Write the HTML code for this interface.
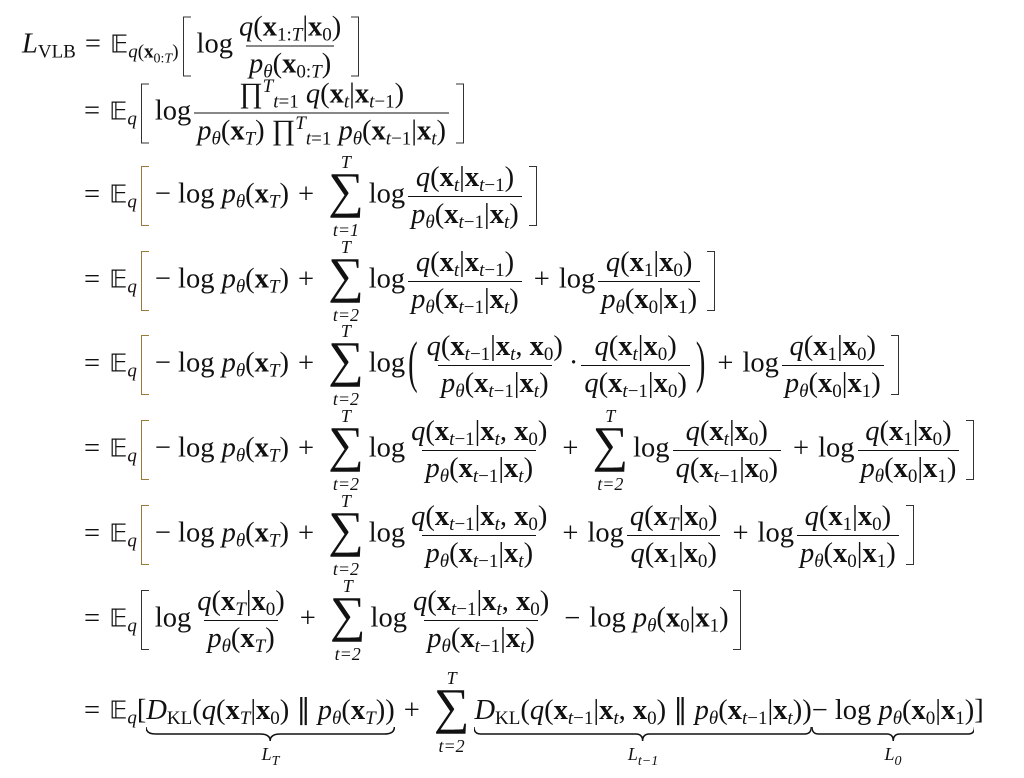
<!DOCTYPE html>
<html><head><meta charset="utf-8">
<style>
body{margin:0;width:1024px;height:778px;background:#fff;position:relative;overflow:hidden;font-family:"Liberation Serif",serif;font-size:28.5px;color:#111}
.row{position:absolute;white-space:nowrap;line-height:1;transform:translateY(-50%)}
.fr{display:inline-flex;flex-direction:column;align-items:center;margin:0 3px;vertical-align:middle}
.fr>span{padding:0 3px;line-height:36px}
.fr>span+span{border-top:1.4px solid #111}
.sum{display:inline-flex;flex-direction:column;align-items:center;margin:0 5px;line-height:1;vertical-align:middle}
.sum .s{font-size:50px;line-height:46px;transform:translateY(-5px)}
.sum .l{font-size:18px;font-style:italic;line-height:20px}
.sum .l:last-child{margin-top:2px}
sub{font-size:19px;vertical-align:-5px;line-height:0}
sub sub{font-size:14px}
sup{font-size:19px;line-height:0}
i{font-style:italic}
.br{display:inline-block;width:7px;height:58px;border:1.4px solid #333;border-right:none;margin:0 6px 0 4px;vertical-align:middle}
.br.r{border-left:none;border-right:1.4px solid #333;margin:0 2px 0 4px}
.br.o{border-color:#9a7a3a}
.bb{font-family:"DejaVu Sans",sans-serif;font-size:25px}
.op{margin:0 9px}
.bp{display:inline-block;transform:scaleY(2);margin:0 3px;vertical-align:middle}
.ub{position:relative;display:inline-block}
.ub svg{position:absolute;left:0;top:100%;width:100%;height:14px;margin-top:2px}
.ub .lab{position:absolute;left:0;right:0;text-align:center;top:100%;margin-top:20px;font-size:18px;font-style:italic}
.ub .lab sub{font-size:14px}
</style></head><body>

<div class="row" style="left:22px;top:46px"><i>L</i><sub style="font-style:normal">VLB</sub><span class="op">=</span><span class="bb">𝔼</span><sub><i>q</i>(<b>x</b><sub>0:<i>T</i></sub>)</sub><span class="br"></span>log<span class="fr"><span><i>q</i>(<b>x</b><sub>1:<i>T</i></sub>|<b>x</b><sub>0</sub>)</span><span><i>p</i><sub><i>θ</i></sub>(<b>x</b><sub>0:<i>T</i></sub>)</span></span><span class="br r"></span></div>

<div class="row" style="left:84px;top:113px"><span class="op" style="margin-left:0">=</span><span class="bb">𝔼</span><sub><i>q</i></sub><span class="br"></span>log<span class="fr"><span>∏<sup><i>T</i></sup><sub><i>t</i>=1</sub> <i>q</i>(<b>x</b><sub><i>t</i></sub>|<b>x</b><sub><i>t</i>−1</sub>)</span><span><i>p</i><sub><i>θ</i></sub>(<b>x</b><sub><i>T</i></sub>) ∏<sup><i>T</i></sup><sub><i>t</i>=1</sub> <i>p</i><sub><i>θ</i></sub>(<b>x</b><sub><i>t</i>−1</sub>|<b>x</b><sub><i>t</i></sub>)</span></span><span class="br r"></span></div>

<div class="row" style="left:84px;top:196px"><span class="op" style="margin-left:0">=</span><span class="bb">𝔼</span><sub><i>q</i></sub><span class="br o"></span>− log <i>p</i><sub><i>θ</i></sub>(<b>x</b><sub><i>T</i></sub>)<span class="op">+</span><span class="sum"><span class="l">T</span><span class="s">∑</span><span class="l">t=1</span></span>log<span class="fr"><span><i>q</i>(<b>x</b><sub><i>t</i></sub>|<b>x</b><sub><i>t</i>−1</sub>)</span><span><i>p</i><sub><i>θ</i></sub>(<b>x</b><sub><i>t</i>−1</sub>|<b>x</b><sub><i>t</i></sub>)</span></span><span class="br r"></span></div>

<div class="row" style="left:84px;top:281px"><span class="op" style="margin-left:0">=</span><span class="bb">𝔼</span><sub><i>q</i></sub><span class="br o"></span>− log <i>p</i><sub><i>θ</i></sub>(<b>x</b><sub><i>T</i></sub>)<span class="op">+</span><span class="sum"><span class="l">T</span><span class="s">∑</span><span class="l">t=2</span></span>log<span class="fr"><span><i>q</i>(<b>x</b><sub><i>t</i></sub>|<b>x</b><sub><i>t</i>−1</sub>)</span><span><i>p</i><sub><i>θ</i></sub>(<b>x</b><sub><i>t</i>−1</sub>|<b>x</b><sub><i>t</i></sub>)</span></span><span class="op">+</span>log<span class="fr"><span><i>q</i>(<b>x</b><sub>1</sub>|<b>x</b><sub>0</sub>)</span><span><i>p</i><sub><i>θ</i></sub>(<b>x</b><sub>0</sub>|<b>x</b><sub>1</sub>)</span></span><span class="br r"></span></div>

<div class="row" style="left:84px;top:365px"><span class="op" style="margin-left:0">=</span><span class="bb">𝔼</span><sub><i>q</i></sub><span class="br o"></span>− log <i>p</i><sub><i>θ</i></sub>(<b>x</b><sub><i>T</i></sub>)<span class="op">+</span><span class="sum"><span class="l">T</span><span class="s">∑</span><span class="l">t=2</span></span>log<span class="bp">(</span><span class="fr"><span><i>q</i>(<b>x</b><sub><i>t</i>−1</sub>|<b>x</b><sub><i>t</i></sub>, <b>x</b><sub>0</sub>)</span><span><i>p</i><sub><i>θ</i></sub>(<b>x</b><sub><i>t</i>−1</sub>|<b>x</b><sub><i>t</i></sub>)</span></span>·<span class="fr"><span><i>q</i>(<b>x</b><sub><i>t</i></sub>|<b>x</b><sub>0</sub>)</span><span><i>q</i>(<b>x</b><sub><i>t</i>−1</sub>|<b>x</b><sub>0</sub>)</span></span><span class="bp">)</span><span class="op">+</span>log<span class="fr"><span><i>q</i>(<b>x</b><sub>1</sub>|<b>x</b><sub>0</sub>)</span><span><i>p</i><sub><i>θ</i></sub>(<b>x</b><sub>0</sub>|<b>x</b><sub>1</sub>)</span></span><span class="br r"></span></div>

<div class="row" style="left:84px;top:450px"><span class="op" style="margin-left:0">=</span><span class="bb">𝔼</span><sub><i>q</i></sub><span class="br o"></span>− log <i>p</i><sub><i>θ</i></sub>(<b>x</b><sub><i>T</i></sub>)<span class="op">+</span><span class="sum"><span class="l">T</span><span class="s">∑</span><span class="l">t=2</span></span>log<span class="fr"><span><i>q</i>(<b>x</b><sub><i>t</i>−1</sub>|<b>x</b><sub><i>t</i></sub>, <b>x</b><sub>0</sub>)</span><span><i>p</i><sub><i>θ</i></sub>(<b>x</b><sub><i>t</i>−1</sub>|<b>x</b><sub><i>t</i></sub>)</span></span><span class="op">+</span><span class="sum"><span class="l">T</span><span class="s">∑</span><span class="l">t=2</span></span>log<span class="fr"><span><i>q</i>(<b>x</b><sub><i>t</i></sub>|<b>x</b><sub>0</sub>)</span><span><i>q</i>(<b>x</b><sub><i>t</i>−1</sub>|<b>x</b><sub>0</sub>)</span></span><span class="op">+</span>log<span class="fr"><span><i>q</i>(<b>x</b><sub>1</sub>|<b>x</b><sub>0</sub>)</span><span><i>p</i><sub><i>θ</i></sub>(<b>x</b><sub>0</sub>|<b>x</b><sub>1</sub>)</span></span><span class="br r"></span></div>

<div class="row" style="left:84px;top:535px"><span class="op" style="margin-left:0">=</span><span class="bb">𝔼</span><sub><i>q</i></sub><span class="br o"></span>− log <i>p</i><sub><i>θ</i></sub>(<b>x</b><sub><i>T</i></sub>)<span class="op">+</span><span class="sum"><span class="l">T</span><span class="s">∑</span><span class="l">t=2</span></span>log<span class="fr"><span><i>q</i>(<b>x</b><sub><i>t</i>−1</sub>|<b>x</b><sub><i>t</i></sub>, <b>x</b><sub>0</sub>)</span><span><i>p</i><sub><i>θ</i></sub>(<b>x</b><sub><i>t</i>−1</sub>|<b>x</b><sub><i>t</i></sub>)</span></span><span class="op">+</span>log<span class="fr"><span><i>q</i>(<b>x</b><sub><i>T</i></sub>|<b>x</b><sub>0</sub>)</span><span><i>q</i>(<b>x</b><sub>1</sub>|<b>x</b><sub>0</sub>)</span></span><span class="op">+</span>log<span class="fr"><span><i>q</i>(<b>x</b><sub>1</sub>|<b>x</b><sub>0</sub>)</span><span><i>p</i><sub><i>θ</i></sub>(<b>x</b><sub>0</sub>|<b>x</b><sub>1</sub>)</span></span><span class="br r"></span></div>

<div class="row" style="left:84px;top:620px"><span class="op" style="margin-left:0">=</span><span class="bb">𝔼</span><sub><i>q</i></sub><span class="br"></span>log<span class="fr"><span><i>q</i>(<b>x</b><sub><i>T</i></sub>|<b>x</b><sub>0</sub>)</span><span><i>p</i><sub><i>θ</i></sub>(<b>x</b><sub><i>T</i></sub>)</span></span><span class="op">+</span><span class="sum"><span class="l">T</span><span class="s">∑</span><span class="l">t=2</span></span>log<span class="fr"><span><i>q</i>(<b>x</b><sub><i>t</i>−1</sub>|<b>x</b><sub><i>t</i></sub>, <b>x</b><sub>0</sub>)</span><span><i>p</i><sub><i>θ</i></sub>(<b>x</b><sub><i>t</i>−1</sub>|<b>x</b><sub><i>t</i></sub>)</span></span><span class="op">−</span>log <i>p</i><sub><i>θ</i></sub>(<b>x</b><sub>0</sub>|<b>x</b><sub>1</sub>)<span class="br r"></span></div>

<div class="row" style="left:84px;top:712px"><span class="op" style="margin-left:0">=</span><span class="bb">𝔼</span><sub><i>q</i></sub><span>[</span><span class="ub"><i>D</i><sub>KL</sub>(<i>q</i>(<b>x</b><sub><i>T</i></sub>|<b>x</b><sub>0</sub>) ∥ <i>p</i><sub><i>θ</i></sub>(<b>x</b><sub><i>T</i></sub>))<svg viewBox="0 0 100 14" preserveAspectRatio="none"><path d="M0 0 Q0 7 4 7 L46 7 Q50 7 50 14 Q50 7 54 7 L96 7 Q100 7 100 0" fill="none" stroke="#111" stroke-width="1.5" vector-effect="non-scaling-stroke"/></svg><span class="lab">L<sub>T</sub></span></span><span class="op">+</span><span class="sum"><span class="l">T</span><span class="s">∑</span><span class="l">t=2</span></span><span class="ub"><i>D</i><sub>KL</sub>(<i>q</i>(<b>x</b><sub><i>t</i>−1</sub>|<b>x</b><sub><i>t</i></sub>, <b>x</b><sub>0</sub>) ∥ <i>p</i><sub><i>θ</i></sub>(<b>x</b><sub><i>t</i>−1</sub>|<b>x</b><sub><i>t</i></sub>))<svg viewBox="0 0 100 14" preserveAspectRatio="none"><path d="M0 0 Q0 7 2 7 L48 7 Q50 7 50 14 Q50 7 52 7 L98 7 Q100 7 100 0" fill="none" stroke="#111" stroke-width="1.5" vector-effect="non-scaling-stroke"/></svg><span class="lab">L<sub>t−1</sub></span></span><span class="ub">− log <i>p</i><sub><i>θ</i></sub>(<b>x</b><sub>0</sub>|<b>x</b><sub>1</sub>)<svg viewBox="0 0 100 14" preserveAspectRatio="none"><path d="M0 0 Q0 7 4 7 L46 7 Q50 7 50 14 Q50 7 54 7 L96 7 Q100 7 100 0" fill="none" stroke="#111" stroke-width="1.5" vector-effect="non-scaling-stroke"/></svg><span class="lab">L<sub>0</sub></span></span><span>]</span></div>

</body></html>
